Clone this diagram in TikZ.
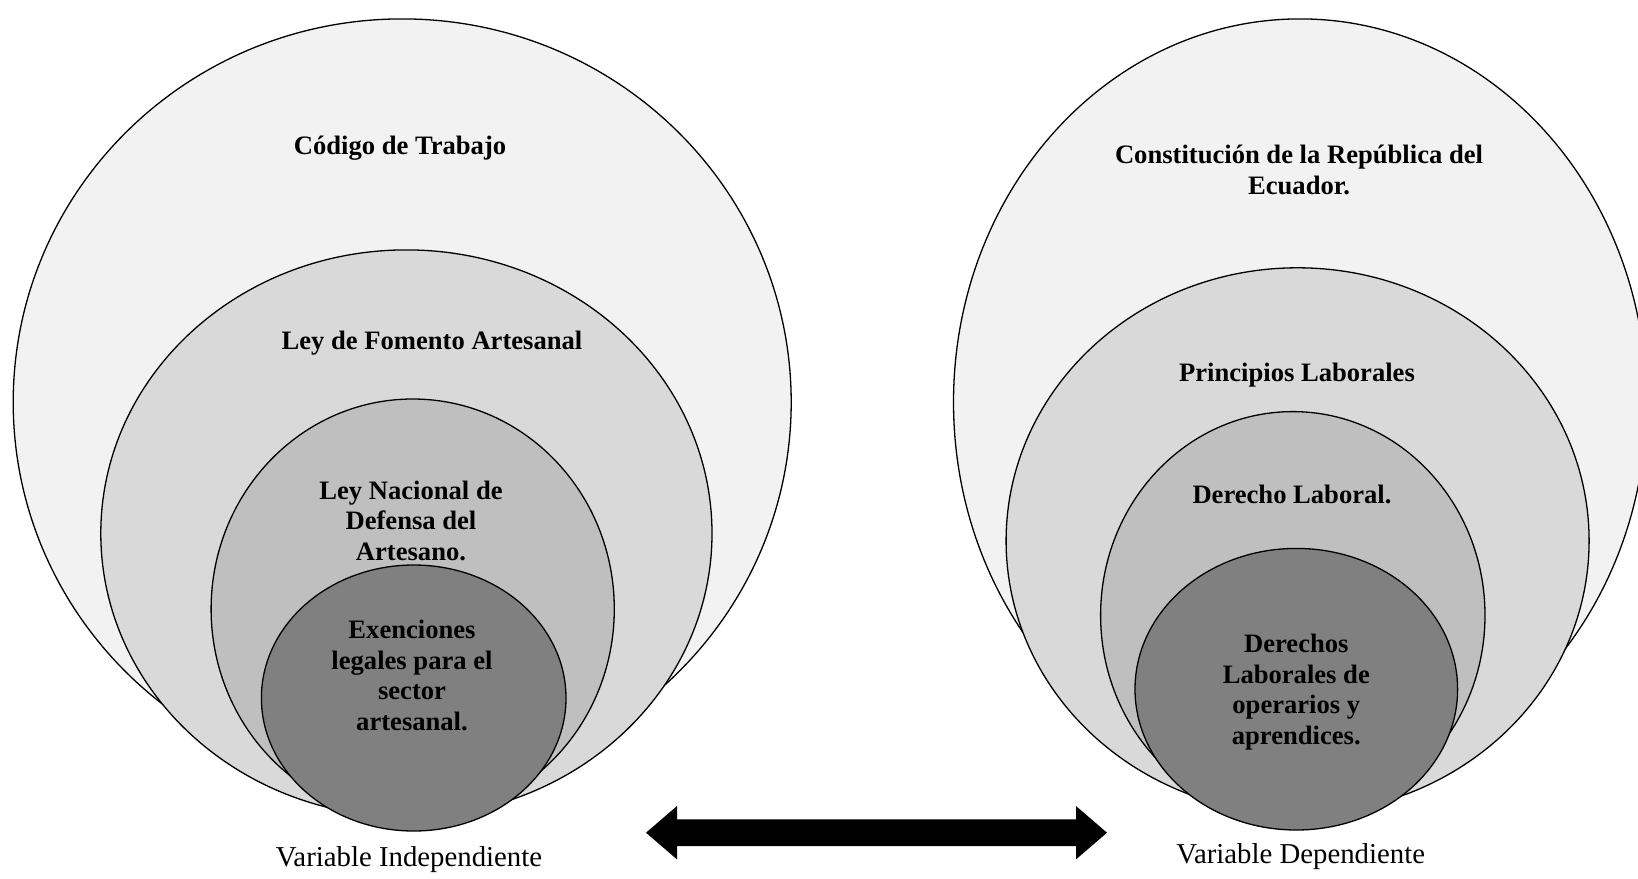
\documentclass[tikz,border=0pt]{standalone}
\usepackage{fontspec}
\setmainfont{Liberation Serif}
\usetikzlibrary{shapes.geometric,calc}
\definecolor{c1}{HTML}{F2F2F2}
\definecolor{c2}{HTML}{D9D9D9}
\definecolor{c3}{HTML}{BFBFBF}
\definecolor{c4}{HTML}{808080}
\newcommand{\mlines}[1]{\begin{tabular}[t]{@{}c@{}}#1\end{tabular}}
\tikzset{
  ell/.style={ellipse, draw=black, line width=1.3pt, inner sep=0pt},
  lbl/.style={anchor=base, font=\fontsize{26.6}{30.5}\selectfont\bfseries, inner sep=0pt},
  captxt/.style={anchor=base, font=\fontsize{28.8}{33}\selectfont, inner sep=0pt}
}
\begin{document}
\begin{tikzpicture}[x=1pt,y=-1pt]
\useasboundingbox (0,0) rectangle (1638,878);
% left set
\node[ell, fill=c1, minimum width=778, minimum height=766.6] (L1) at (402.2,402.2) {};
\node[ell, fill=c2, minimum width=611.2, minimum height=567] (L2) at (406.4,533.4) {};
\node[ell, fill=c3, minimum width=403.2, minimum height=420] (L3) at (412.7,609) {};
\node[ell, fill=c4, minimum width=304.6, minimum height=266] (L4) at (413.7,698) {};
\node[lbl] (tL1) at (400,154.5) {Código de Trabajo};
\node[lbl] (tL2) at (432,349) {Ley de Fomento Artesanal};
\node[lbl] (tL3) at (411,499.3) {\mlines{Ley Nacional de\\Defensa del\\Artesano.}};
\node[lbl] (tL4) at (412,638.5) {\mlines{Exenciones\\legales para el\\sector\\artesanal.}};
\node[captxt] (vL) at (409,866.7) {Variable Independiente};
% right set
\node[ell, fill=c1, minimum width=693, minimum height=766.6] (R1) at (1300,402.2) {};
\node[ell, fill=c2, minimum width=583, minimum height=546] (R2) at (1297.6,540.8) {};
\node[ell, fill=c3, minimum width=384.4, minimum height=407.4] (R3) at (1292.8,615.3) {};
\node[ell, fill=c4, minimum width=322.6, minimum height=281.6] (R4) at (1296.3,689.2) {};
\node[lbl] (tR1) at (1299,163.5) {\mlines{Constitución de la República del\\Ecuador.}};
\node[lbl] (tR2) at (1297,381) {Principios Laborales};
\node[lbl] (tR3) at (1292,503.5) {Derecho Laboral.};
\node[lbl] (tR4) at (1296.3,652.7) {\mlines{Derechos\\Laborales de\\operarios y\\aprendices.}};
\node[captxt] (vR) at (1300.7,863.3) {Variable Dependiente};
% double block arrow
\coordinate (aL) at (646,832.7);
\coordinate (aR) at (1107,832.7);
\fill[black] (aL) -- ++(31,-26.7) -- ++(0,13.4) -- ($(aR)+(-31,-13.3)$) -- ++(0,-13.4)
  -- (aR) -- ++(-31,26.7) -- ++(0,-13.4) -- ($(aL)+(31,13.3)$) -- ++(0,13.4) -- cycle;
\end{tikzpicture}
\end{document}
